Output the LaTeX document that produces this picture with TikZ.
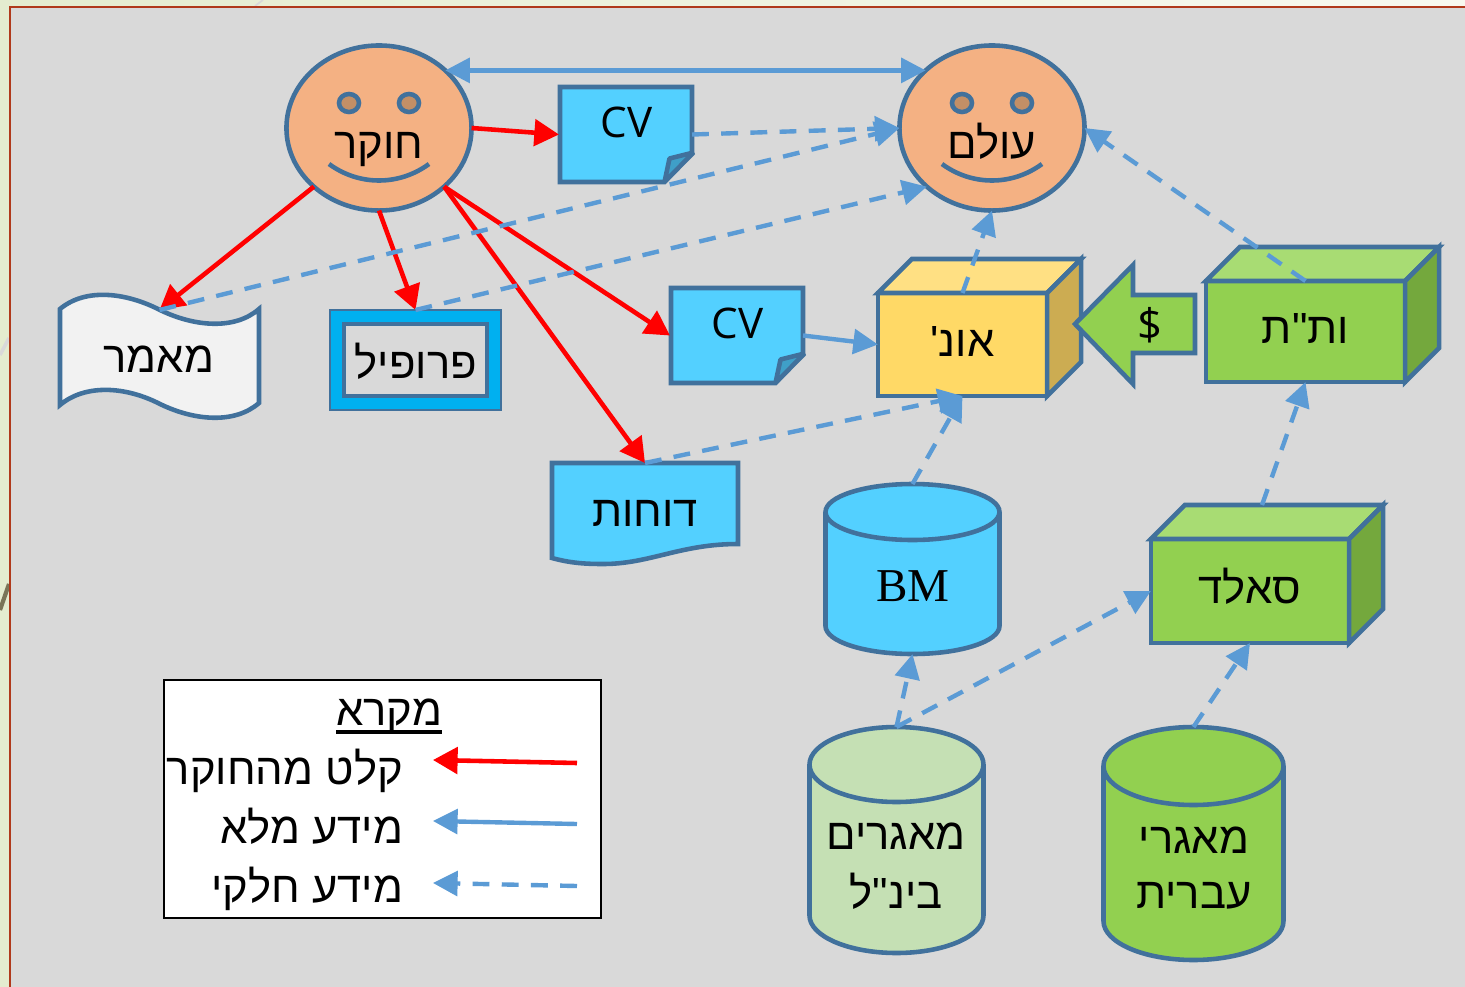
\documentclass[tikz,border=0pt]{standalone}
\usepackage{fontspec}
\usepackage{tikz}
\usetikzlibrary{shapes.geometric,arrows.meta,calc}
\TeXXeTstate=1
\setmainfont{Liberation Serif}
\newfontfamily\hebfont[Script=Hebrew]{Liberation Sans}
\newfontfamily\latfont{Open Sans}
\newcommand{\heb}[1]{{\hebfont\beginR #1\endR}}
\definecolor{edge}{HTML}{41719C}
\definecolor{flow}{HTML}{5B9BD5}
\definecolor{paper}{HTML}{D9D9D9}
\definecolor{frame}{HTML}{B0391B}
\definecolor{skin}{HTML}{F4B183}
\definecolor{eye}{HTML}{C38F66}
\definecolor{sky}{HTML}{53D0FF}
\definecolor{skyfold}{HTML}{3F9FC8}
\definecolor{cyan}{HTML}{00B0F0}
\definecolor{leaf}{HTML}{92D050}
\definecolor{leaftop}{HTML}{A8DC73}
\definecolor{leafside}{HTML}{74A83D}
\definecolor{pale}{HTML}{C5E0B4}
\definecolor{gold}{HTML}{FFD966}
\definecolor{goldtop}{HTML}{FFE083}
\definecolor{goldside}{HTML}{CCAC52}
\definecolor{bgleft}{HTML}{E4ECCF}
\definecolor{bgright}{HTML}{F8F9F0}
\definecolor{twig}{HTML}{7A7558}
\tikzset{
  shapeline/.style={draw=edge,line width=1.3pt},
  txt/.style={inner sep=0pt,outer sep=0pt,anchor=base,font=\fontsize{12.4}{15}\selectfont},
  plain/.style={minimum width=#1,inner sep=0pt,outer sep=0pt},
  redarrow/.style={draw=red,line width=1.3pt,-{Triangle[length=7pt,width=7.5pt]}},
  fullarrow/.style={draw=flow,line width=1.25pt,-{Triangle[length=7pt,width=7pt]}},
  partarrow/.style={fullarrow,dash pattern=on 4.8pt off 3.5pt},
}
\begin{document}
\begin{tikzpicture}[x=0.01cm,y=-0.01cm]
\useasboundingbox (0,0) rectangle (1465,987);
\shade[left color=bgleft,right color=bgright] (0,0) rectangle (1465,987);
\draw[black!15,line width=0.5pt] (263,0) -- (255,6);
\draw[black!15,line width=1pt] (0,355) -- (9,338);
\draw[twig,line width=1.2pt] (0,610) -- (9,584);
\fill[paper,draw=frame,line width=0.6pt] (10,7) rectangle (1480,1000);

% Faces
\foreach \pos/\name/\disp in {{(379,128)/faceA/חוקר}, {(992,128)/faceB/עולם}} {
\node[ellipse,shapeline,fill=skin,plain=185pt*0.2845,minimum height=165pt*0.2845] (\name) at \pos {};
\begin{scope}[shift={(\name)}]
\draw[shapeline,fill=eye] (-30,-25) ellipse (10 and 9);
\draw[shapeline,fill=eye] (30,-25) ellipse (10 and 9);
\draw[shapeline] (-50,36) .. controls (-20,58) and (20,58) .. (50,36);
\end{scope}
\node[txt] (\name text) at ($(\name)+(0,30)$) {\heb{\disp}};
}

% Folded papers
\foreach \pos/\name in {{(625.5,134.5)/cvOne}, {(736.5,335.5)/cvTwo}} {
\node[plain=133pt*0.2845,minimum height=95pt*0.2845] (\name) at \pos {};
\begin{scope}[shift={(\name)}]
\draw[shapeline,fill=sky] (-65.5,-47.5) -- (66.5,-47.5) -- (66.5,18) -- (39,47.5) -- (-65.5,47.5) -- cycle;
\draw[shapeline,fill=skyfold,line join=bevel] (39,47.5) -- (44,24) -- (68,18) -- cycle;
\end{scope}
\node[txt,font=\latfont\fontsize{12}{14}\selectfont] (\name text) at ($(\name)+(1,3)$) {CV};
}

% Wave and document
\draw[shapeline,fill=black!5] (60,309) .. controls (85,288) and (125,292) .. (160,310) .. controls (195,327) and (235,330) .. (259,309) -- (259,403) .. controls (235,424) and (195,421) .. (160,404) .. controls (125,386) and (85,384) .. (60,405) -- cycle;
\node[plain=199pt*0.2845,minimum height=94pt*0.2845] (wave) at (159.5,357) {};
\node[txt] (wave text) at (159,372) {\heb{מאמר}};
\draw[shapeline,fill=sky] (552,463) -- (738,463) -- (738,544) .. controls (680,544) and (650,564) .. (603,564) .. controls (585,564) and (570,563) .. (552,558) -- cycle;
\node[plain=186pt*0.2845,minimum height=101pt*0.2845] (reports) at (645,513.5) {};
\node[txt] (reports text) at (645,526) {\heb{דוחות}};

% Profile frame
\node[rectangle,draw=edge,line width=0.8pt,fill=cyan,plain=171pt*0.2845,minimum height=100pt*0.2845] (profile) at (415.5,360) {};
\node[rectangle,shapeline,fill=paper,plain=143pt*0.2845,minimum height=72pt*0.2845] (profile inner) at (415.5,360) {};
\node[txt] (profile text) at (416,378) {\heb{פרופיל}};

% Boxes
\foreach \pos/\name/\w/\h/\front/\top/\side/\disp in {{(962.5,344.5)/uni/169/103/gold/goldtop/goldside/אונ'}, {(1305.5,331.5)/tt/199/101/leaf/leaftop/leafside/ות"ת}, {(1250,591)/sald/198/104/leaf/leaftop/leafside/סאלד}} {
\node[rectangle,shapeline,fill=\front,plain=\w pt*0.2845,minimum height=\h pt*0.2845] (\name) at \pos {};
\draw[shapeline,fill=\top] (\name.north west) -- ++(34,-34) -- ($(\name.north east)+(34,-34)$) -- (\name.north east) -- cycle;
\draw[shapeline,fill=\side] (\name.north east) -- ++(34,-34) -- ($(\name.south east)+(34,-34)$) -- (\name.south east) -- cycle;
\node[txt] (\name text) at ($(\name)+(0,12)$) {\heb{\disp}};
}

% Block arrow
\draw[shapeline,fill=leaf] (1075,324) -- (1133,265) -- (1133,295) -- (1195,295) -- (1195,353) -- (1133,353) -- (1133,384) -- cycle;
\node[txt] (dollar) at (1150,340) {\latfont\$};

% Cylinders
\foreach \pos/\name/\fillc/\a/\hh/\b in {{(912.5,569)/bm/sky/87/85/28}, {(896.5,840)/intl/pale/87/113/37.5}, {(1193.5,843.5)/heb/leaf/90/116.5/39}} {
\node[plain=2*\a pt*0.2845,minimum height=2*\hh pt*0.2845] (\name) at \pos {};
\begin{scope}[shift={(\name)}]
\draw[shapeline,fill=\fillc] (-\a,-\hh+\b) -- (-\a,\hh-\b) arc[start angle=180,end angle=0,x radius=\a,y radius=\b] -- (\a,-\hh+\b) arc[start angle=360,end angle=180,x radius=\a,y radius=\b] -- cycle;
\draw[shapeline] (-\a,-\hh+\b) arc[start angle=180,end angle=0,x radius=\a,y radius=\b];
\end{scope}
}
\node[txt,font=\fontsize{13.4}{16}\selectfont] (bm text) at (913,601) {BM};
\foreach \pos/\name/\disp in {{(896,849)/intl one/מאגרים}, {(896,908)/intl two/בינ"ל}, {(1194,853)/heb one/מאגרי}, {(1194,908)/heb two/עברית}}
\node[txt] (\name) at \pos {\heb{\disp}};

% Legend
\node[rectangle,draw=black,line width=0.6pt,fill=white,plain=437pt*0.2845,minimum height=238pt*0.2845] (legend) at (382.5,799) {};
\node[txt] (legend title) at (389,725) {\heb{מקרא}};
\draw[line width=0.9pt] ($(legend title.base west)+(0,7)$) -- ($(legend title.base east)+(0,7)$);
\foreach \y/\base/\name/\style/\disp in {770/784/keyRed/redarrow/קלט מהחוקר, 831/843/keyFull/fullarrow/מידע מלא, 893/902/keyPart/partarrow/מידע חלקי} {
\node[txt,anchor=base east] (\name text) at (403,\base) {\heb{\disp}};
\coordinate (\name from) at (577,\y-7);
\coordinate (\name to) at (433,\y-10);
\path[\style] (\name from) -- (\name to);
}

% Connect shapes with arrows
\coordinate (sald top) at (1262,505);
\foreach \source/\dest in {faceA.east/cvOne.west, faceA.222/wave.north, faceA.south/profile.north, faceA.318/cvTwo.west, faceA.318/reports.north}
\path[redarrow] (\source) -- (\dest);
\path[fullarrow,<->,>={Triangle[length=7pt,width=7pt]}] (faceA.41) -- (faceB.139);
\path[fullarrow] (cvTwo.east) -- (uni.west);
\foreach \source/\dest in {cvOne.east/faceB.west, wave.north/faceB.west, profile.north/faceB.222, uni.north/faceB.south, tt.north/faceB.east, reports.north/uni.south, bm.north/uni.south, intl.north/bm.south, intl.north/sald.west, heb.north/sald.south, sald top/tt.south}
\path[partarrow] (\source) -- (\dest);

\end{tikzpicture}
\end{document}
